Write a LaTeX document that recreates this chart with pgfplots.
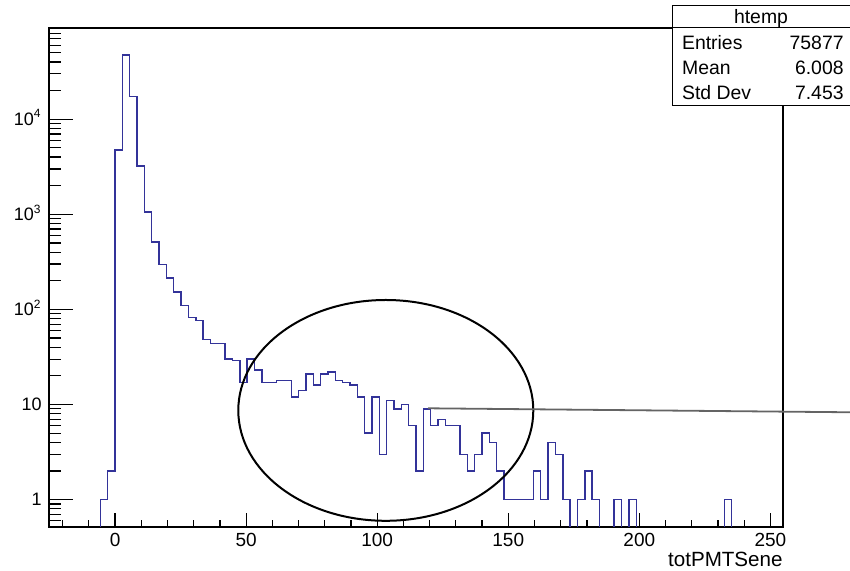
\documentclass[border=0pt]{standalone}
\usepackage{fontspec}
\setmainfont{Liberation Sans}
\usepackage{pgfplots}
\pgfplotsset{compat=1.18}
\definecolor{roothist}{RGB}{51,51,153}
\definecolor{linegray}{RGB}{100,100,100}
\begin{document}
\begin{tikzpicture}[x=1pt,y=1pt]
\path[use as bounding box] (0,0) rectangle (425,285.5);
\begin{axis}[
  at={(24.5pt,22pt)}, anchor=south west,
  scale only axis, width=367pt, height=249.5pt,
  ymode=log, xmin=-25.2, xmax=254.8, ymin=0.515, ymax=91000,
  axis line style={line width=0.6pt, black},
  tick align=inside, xtick pos=bottom, ytick pos=left,
  xtick={0,50,100,150,200,250}, xticklabels={0,50,100,150,200,250},
  minor xtick={-20,-10,...,250},
  ytick={1,10,100,1000,10000},
  yticklabels={1,10,10\textsuperscript{2},10\textsuperscript{3},10\textsuperscript{4}},
  minor ytick={0.6,0.7,0.8,0.9,2,3,4,5,6,7,8,9,20,30,40,50,60,70,80,90,200,300,400,500,600,700,800,900,2000,3000,4000,5000,6000,7000,8000,9000,20000,30000,40000,50000,60000,70000,80000,90000},
  xtick style={/pgfplots/major tick length=7pt,/pgfplots/minor tick length=3.7pt, black, line width=0.6pt},
  ytick style={/pgfplots/major tick length=11.8pt,/pgfplots/minor tick length=6pt, black, line width=0.6pt},
  yticklabel style={font=\fontsize{9}{10.8}\selectfont, anchor=base east, inner sep=0pt, xshift=-3.5pt, yshift=-3.2pt},
  xticklabel style={font=\fontsize{9.5}{11.4}\selectfont, anchor=base, inner sep=0pt, yshift=-9.85pt},
  xlabel={totPMTSene},
  xlabel style={at={(axis description cs:1,0)}, anchor=base east, inner sep=0pt, yshift=-19.85pt, font=\fontsize{10.3}{12.4}\selectfont},
]
\addplot[const plot, roothist, line width=0.7pt] table {
x y
-25.2 0.1
-5.6 1
-2.8 2
0 4750
2.8 47500
5.6 17300
8.4 3220
11.2 1060
14 511
16.8 295
19.6 214
22.4 152
25.2 110
28 82
30.8 76
33.6 48
36.4 44
39.2 44
42 30
44.8 29
47.6 17
50.4 30
53.2 23
56 17
58.8 17
61.6 18
64.4 18
67.2 12
70 14
72.8 21
75.6 16
78.4 21
81.2 22
84 18
86.8 17
89.6 16
92.4 12
95.2 5
98 12
100.8 3
103.6 11
106.4 9
109.2 10
112 6
114.8 2
117.6 9
120.4 6
123.2 7
126 6
128.8 6
131.6 3
134.4 2
137.2 3
140 5
142.8 4
145.6 2
148.4 1
151.2 1
154 1
156.8 1
159.6 2
162.4 1
165.2 4
168 3
170.8 1
173.6 0.1
176.4 1
179.2 2
182 1
184.8 0.1
187.6 0.1
190.4 1
193.2 0.1
196 1
198.8 0.1
232.4 1
235.2 0.1
254.8 0.1
};
\end{axis}
% annotations
\draw[line width=1pt] (192.9,80.3) ellipse [x radius=73.75, y radius=55.2];
\draw[linegray, line width=0.9pt] (214,81.35) -- (426,79.35);
% stats box
\draw[fill=white, line width=0.5pt] (336,232.5) rectangle (425.6,282.75);
\draw[line width=0.5pt] (336,271.5) -- (425.6,271.5);
\begin{scope}[every node/.style={inner sep=0pt, font=\fontsize{9.7}{11.6}\selectfont}]
\node[anchor=base] at (380.5,273.8) {htemp};
\node[anchor=base west] at (340.85,260.85) {Entries};
\node[anchor=base east] at (422,260.85) {75877};
\node[anchor=base west] at (340.85,248) {Mean};
\node[anchor=base east] at (422,248) {6.008};
\node[anchor=base west] at (340.85,235.5) {Std Dev};
\node[anchor=base east] at (422,235.5) {7.453};
\end{scope}
\end{tikzpicture}
\end{document}
